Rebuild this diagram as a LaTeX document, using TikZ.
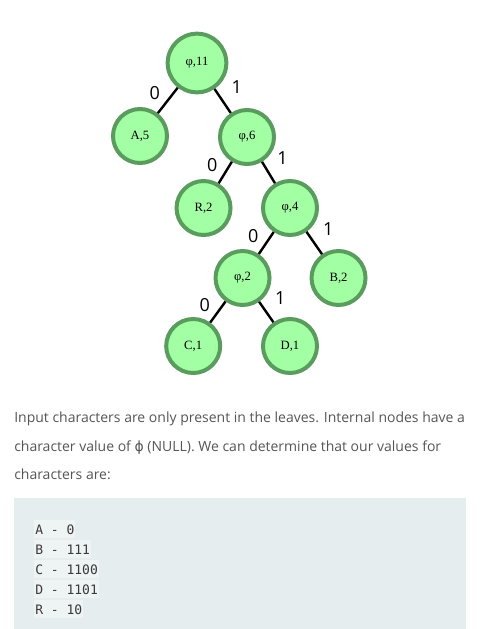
\documentclass[tikz,border=0pt]{standalone}
\usepackage{fontspec}
\setmainfont{Liberation Serif}
\newfontfamily\parafont{Open Sans}
\newfontfamily\phifont{DejaVu Sans}
\newfontfamily\codefont{DejaVu Sans Mono}
\usetikzlibrary{positioning}
\definecolor{leafgreen}{HTML}{A3FFA3}
\definecolor{rimgreen}{HTML}{5A9C5E}
\definecolor{paragray}{HTML}{555555}
\definecolor{codebg}{HTML}{E6EDEE}
\definecolor{codehl}{HTML}{EEF3F4}
\definecolor{codetext}{HTML}{3A3A3A}

\begin{document}
\begin{tikzpicture}[x=0.75pt, y=-0.75pt, on grid,
    hnode/.style={circle, draw=rimgreen, fill=leafgreen, line width=3pt,
        minimum size=40.5pt, inner sep=0pt, font=\fontsize{9.5}{10}\selectfont},
    bit/.style={font=\parafont\fontsize{13.5}{14}\selectfont, inner sep=0pt, midway},
    bitzero/.style={bit, xshift=-9.75pt, yshift=5.25pt},
    bitone/.style={bit, xshift=10.5pt, yshift=10.5pt},
    branch/.style={line width=1.8pt},
    para/.style={anchor=base west, inner sep=0pt, text=paragray,
        font=\parafont\fontsize{10.5}{12}\selectfont},
    codeline/.style={anchor=base west, fill=codehl, text=codetext,
        inner xsep=0.75pt, inner ysep=0pt, text height=10.5pt, text depth=3pt,
        font=\codefont\fontsize{9.75}{11}\selectfont}]
    \useasboundingbox (0,0) rectangle (480,629);

    \node [hnode, minimum size=44pt] (root) at (197,63) {φ,11};
    \node [hnode, below left = 54.75pt and 42.75pt of root] (A) {A,5};
    \node [hnode, below right = 55.5pt and 37.5pt of root] (n6) {φ,6};
    \node [hnode, below left = 53.25pt and 32.6pt of n6] (R) {R,2};
    \node [hnode, below right = 53.25pt and 32.25pt of n6] (n4) {φ,4};
    \node [hnode, below left = 52.5pt and 35.6pt of n4] (n2) {φ,2};
    \node [hnode, below right = 52.5pt and 36.4pt of n4] (B) {B,2};
    \node [hnode, below left = 51pt and 37pt of n2] (C) {C,1};
    \node [hnode, below right = 51pt and 35.6pt of n2] (D) {D,1};

    \path[branch] (root) edge node[bitzero] {0} (A);
    \path[branch] (root) edge node[bitone] {1} (n6);
    \path[branch] (n6) edge node[bitzero] {0} (R);
    \path[branch] (n6) edge node[bitone] {1} (n4);
    \path[branch] (n4) edge node[bitzero] {0} (n2);
    \path[branch] (n4) edge node[bitone] {1} (B);
    \path[branch] (n2) edge node[bitzero] {0} (C);
    \path[branch] (n2) edge node[bitone] {1} (D);

    % text below the tree
    \node [para] (line1) at (14,422) {Input characters are only present in the leaves. Internal nodes have a};
    \node [para] (line2) at (14,451) {character value of {\phifont ϕ} (NULL). We can determine that our values for};
    \node [para] (line3) at (14,479) {characters are:};

    % code block
    \fill [codebg] (14,498) rectangle (466,629);
    \foreach \code [count=\i] in {A - 0, B - 111, C - 1100, D - 1101, R - 10}
        \node [codeline] (code\i) at (34,514+20*\i) {\code};
\end{tikzpicture}
\end{document}
